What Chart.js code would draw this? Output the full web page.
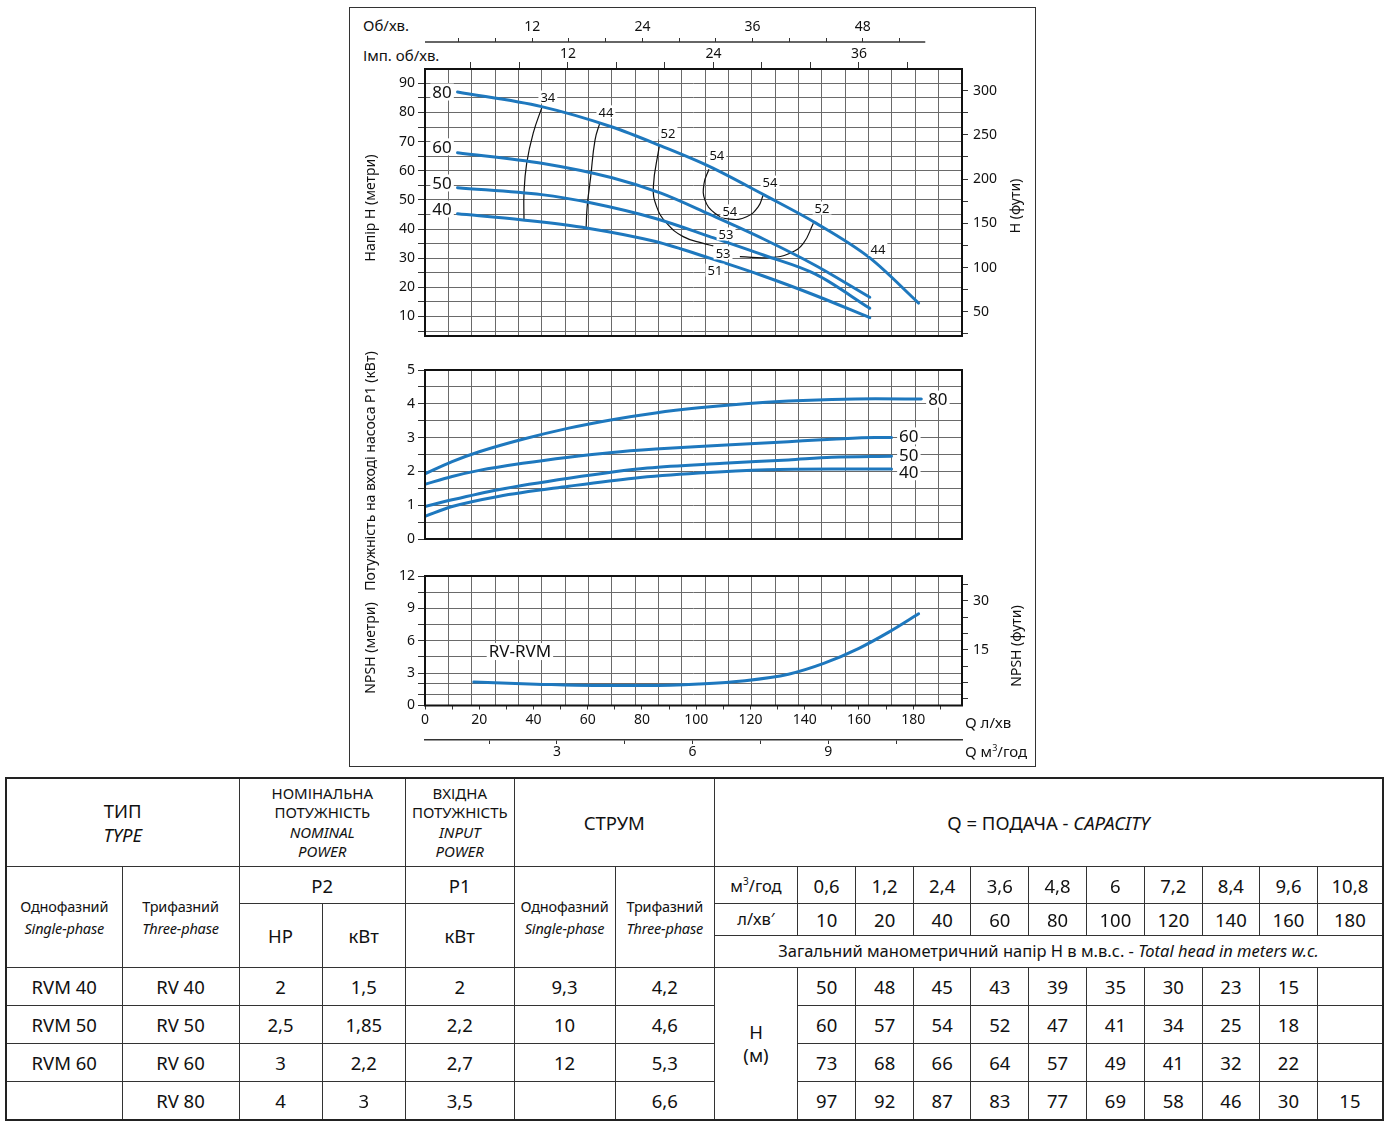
<!DOCTYPE html>
<html>
<head>
<meta charset="utf-8">
<script src="https://cdn.jsdelivr.net/npm/chart.js@4.4.0/dist/chart.umd.min.js"></script>
<style>
body{margin:0;background:#fff;font-family:'Noto Sans',sans-serif;color:#111;}
#page{position:relative;width:1386px;height:1126px;overflow:hidden;}
#frame{position:absolute;left:349px;top:7px;width:685px;height:758px;border:1.5px solid #333;}
canvas{position:absolute;}
.lbl{position:absolute;font-size:15px;white-space:nowrap;line-height:1;transform:translateY(-50%);}
.vt{position:absolute;font-size:14px;white-space:nowrap;line-height:1;transform:translate(-50%,-50%) rotate(-90deg);}
#tbl{position:absolute;left:5px;top:777px;border-collapse:collapse;table-layout:fixed;border:2px solid #222;}
#tbl td{border:1.5px solid #333;text-align:center;vertical-align:middle;padding:0;font-size:18.5px;line-height:1.25;overflow:hidden;white-space:nowrap;}
#tbl .hd{font-size:15px;line-height:1.3;}
#tbl .ph{font-size:14.5px;line-height:1.55;letter-spacing:-0.2px;}
#tbl .sm{font-size:16.5px;}
</style>
</head>
<body>
<div id="page">
  <div id="frame"></div>
  <div class="lbl" style="left:363px;top:25px">Об/хв.</div>
  <div class="lbl" style="left:363px;top:55px">Імп. об/хв.</div>
  <canvas id="cHead" width="686" height="332" style="left:350px;top:10px"></canvas>
  <canvas id="cPow" width="686" height="200" style="left:350px;top:345px"></canvas>
  <canvas id="cNpsh" width="686" height="215" style="left:350px;top:548px"></canvas>
  <div class="vt" style="left:370px;top:208px">Напір H (метри)</div>
  <div class="vt" style="left:1015px;top:206px">H (фути)</div>
  <div class="vt" style="left:370px;top:471px">Потужність на вході насоса P1 (кВт)</div>
  <div class="vt" style="left:370px;top:648px">NPSH (метри)</div>
  <div class="vt" style="left:1016px;top:646px">NPSH (фути)</div>
  <div class="lbl" style="left:965px;top:722px">Q л/хв</div>
  <div class="lbl" style="left:965px;top:751px">Q м<sup style="font-size:9px">3</sup>/год</div>
  <table id="tbl">
    <colgroup>
      <col style="width:116px"><col style="width:117px"><col style="width:83px"><col style="width:83.5px">
      <col style="width:108.5px"><col style="width:101px"><col style="width:99.5px"><col style="width:83px">
      <col style="width:58.3px"><col style="width:57.7px"><col style="width:57.4px"><col style="width:57.7px">
      <col style="width:57.8px"><col style="width:58.1px"><col style="width:57.8px"><col style="width:57.3px">
      <col style="width:57.8px"><col style="width:65.6px">
    </colgroup>
    <tbody id="tbody"></tbody>
  </table>
</div>
<script>
const BLUE = '#1e78be';
const GRID = '#6a6a6a';
const INK = '#111';
const FONT = "'Noto Sans', sans-serif";

// Q axis (л/хв)
const Q_MAX = 198;
const qTickVals = [0, 10, 20, 30, 40, 50, 60, 70, 80, 90, 100, 110, 120, 130, 140, 150, 160, 170, 180, 190];
const qLabelVals = [0, 20, 40, 60, 80, 100, 120, 140, 160, 180];
const m3TickVals = [1.5, 3, 4.5, 6, 7.5, 9, 10.5];
const m3LabelVals = [3, 6, 9];
const gridCols = [1, 2, 3, 4, 5, 6, 7, 8, 9, 10, 11, 12, 13, 14, 15, 16, 17, 18, 19, 20, 21, 22];
const obTickVals = [4, 8, 12, 16, 20, 24, 28, 32, 36, 40, 44, 48, 52];
const obLabelVals = [12, 24, 36, 48];
const OB_LINE_END = 54.8;
const impTickVals = [4, 8, 12, 16, 20, 24, 28, 32, 36, 40];
const impLabelVals = [12, 24, 36];
const headTickVals = [5, 10, 15, 20, 25, 30, 35, 40, 45, 50, 55, 60, 65, 70, 75, 80, 85, 90];
const headLabelVals = [10, 20, 30, 40, 50, 60, 70, 80, 90];
const feetTickVals = [25, 50, 75, 100, 125, 150, 175, 200, 225, 250, 275, 300];
const feetLabelVals = [50, 100, 150, 200, 250, 300];
const powTickVals = [0, 0.5, 1, 1.5, 2, 2.5, 3, 3.5, 4, 4.5, 5];
const powLabelVals = [0, 1, 2, 3, 4, 5];
const npshTickVals = [0, 1, 2, 3, 4.5, 6, 7.5, 9, 10.5, 12];
const npshLabelVals = [0, 3, 6, 9, 12];
const npshFtTickVals = [0, 5, 10, 15, 20, 25, 30, 35];
const npshFtLabelVals = [15, 30];

// Напір H (м) vs Q (л/хв)
const headQ80 = [12, 43, 69, 87, 105, 125, 144, 164, 182];
const head80  = [87, 82, 75, 68.5, 61.4, 51.7, 42.1, 30.1, 14.6];
const headQ60 = [12, 43, 69, 87, 105, 125, 144, 164];
const head60  = [66.2, 62.6, 57.6, 52.3, 45, 36.5, 27.5, 16.6];
const headQ50 = [12, 43, 61, 85, 105, 125, 144, 164];
const head50  = [54.2, 51.8, 49, 43.6, 37.4, 31, 24.5, 12.8];
const headQ40 = [12, 36, 60, 85, 105, 125, 144, 164];
const head40  = [45.2, 43.1, 40.3, 35.7, 30, 23.8, 17.2, 9.6];

// ККД (%) iso-lines, [Q, H]
const eff34 = [[43.2, 82], [39.9, 72.9], [37.5, 62.6], [36.5, 52.3], [36.5, 43.1]];
const eff44 = [[64.5, 76.5], [62.7, 70.6], [61.1, 58], [59.8, 47.7], [59.4, 40.3]];
const eff52a = [[86.4, 68.5], [84.2, 54.5], [85.4, 47.7], [89.1, 42], [95.2, 37.4], [102.6, 35.1], [106.3, 34.2]];
const eff52b = [[116.1, 30.5], [127.2, 30.2], [134.6, 31.7], [139.5, 35.1], [143.2, 42]];
const eff54 = [[104.7, 60.5], [102.9, 55.7], [103.2, 50], [106.9, 45.4], [112.4, 43.4], [118.6, 44.2], [122.9, 47.7], [124.7, 51.7]];

// Потужність P1 (кВт)
const powQ80 = [0, 10, 20, 36, 53, 69, 85, 101, 118, 134, 150, 166, 183];
const pow80  = [1.93, 2.29, 2.58, 2.95, 3.28, 3.53, 3.73, 3.88, 4.0, 4.08, 4.13, 4.15, 4.14];
const powQ60 = [0, 10, 20, 36, 53, 69, 85, 101, 118, 134, 150, 166, 172];
const pow60  = [1.62, 1.85, 2.03, 2.24, 2.42, 2.56, 2.66, 2.74, 2.81, 2.88, 2.95, 3.0, 3.0];
const powQ50 = [0, 10, 27, 53, 82, 110, 134, 150, 172];
const pow50  = [0.96, 1.16, 1.46, 1.8, 2.1, 2.24, 2.34, 2.42, 2.45];
const powQ40 = [0, 10, 27, 53, 77, 101, 126, 150, 172];
const pow40  = [0.67, 0.96, 1.26, 1.56, 1.8, 1.95, 2.05, 2.07, 2.07];

// NPSH (м)
const npshQ = [18, 41, 62, 82, 101, 118, 134, 147, 160, 171, 182];
const npsh  = [2.17, 1.98, 1.85, 1.85, 2.0, 2.3, 2.9, 3.9, 5.3, 6.8, 8.5];

// curve labels [Q, value, text, size]
const headTags = [[6.3, 87, '80', 17], [6.3, 68.2, '60', 17], [6.3, 55.8, '50', 17], [6.3, 46.9, '40', 17],
  [45.3, 85.3, '34', 13], [66.7, 80.2, '44', 13], [89.6, 73, '52', 13], [107.6, 65.4, '54', 13],
  [127.2, 56.1, '54', 13], [112.4, 46.2, '54', 13], [146.4, 47.2, '52', 13], [111, 38.3, '53', 13],
  [109.9, 31.8, '53', 13], [106.9, 25.9, '51', 13], [167, 33, '44', 13]];
const powTags = [[189.1, 4.14, '80', 17], [178.4, 3.05, '60', 17], [178.4, 2.49, '50', 17], [178.4, 1.99, '40', 17]];
const npshTags = [[35, 5.0, 'RV-RVM', 17]];

// таблиця
const capM3 = ['0,6', '1,2', '2,4', '3,6', '4,8', '6', '7,2', '8,4', '9,6', '10,8'];
const capLmin = ['10', '20', '40', '60', '80', '100', '120', '140', '160', '180'];
const typeSingle = ['RVM 40', 'RVM 50', 'RVM 60', ''];
const typeThree = ['RV 40', 'RV 50', 'RV 60', 'RV 80'];
const powerHP = ['2', '2,5', '3', '4'];
const powerKW = ['1,5', '1,85', '2,2', '3'];
const inputKW = ['2', '2,2', '2,7', '3,5'];
const ampSingle = ['9,3', '10', '12', ''];
const ampThree = ['4,2', '4,6', '5,3', '6,6'];
const headTable = [
  ['50', '48', '45', '43', '39', '35', '30', '23', '15', ''],
  ['60', '57', '54', '52', '47', '41', '34', '25', '18', ''],
  ['73', '68', '66', '64', '57', '49', '41', '32', '22', ''],
  ['97', '92', '87', '83', '77', '69', '58', '46', '30', '15']
];

function pts(qs, vs) { return qs.map((q, i) => ({x: q, y: vs[i]})); }
function pairs(arr) { return arr.map(p => ({x: p[0], y: p[1]})); }
function curve(data) {
  return {data, xAxisID: 'q', yAxisID: 'y', showLine: true, borderColor: BLUE, borderWidth: 3,
    pointRadius: 0, cubicInterpolationMode: 'monotone', fill: false, borderCapStyle: 'round'};
}
function effLine(data) {
  return {data, xAxisID: 'q', yAxisID: 'y', showLine: true, borderColor: INK, borderWidth: 1.2,
    pointRadius: 0, tension: 0.45, fill: false};
}
function fixed(vals) { return s => { s.ticks = vals.map(v => ({value: v})); }; }
function only(vals) { return v => (vals.includes(v) ? String(v) : ''); }
function width(w) { return s => { s.width = w; s.paddingTop = 0; s.paddingBottom = 0; }; }
function height(h) { return s => { s.height = h; s.paddingLeft = 0; s.paddingRight = 0; }; }
const tickFont = {family: FONT, size: 14};

const framePlugin = {
  id: 'frame',
  afterDatasetsDraw(chart) {
    const a = chart.chartArea, c = chart.ctx;
    c.save(); c.lineWidth = 2; c.strokeStyle = INK;
    c.strokeRect(a.left, a.top, a.right - a.left, a.bottom - a.top);
    c.restore();
  }
};
function tagPlugin(items, yId) {
  return {
    id: 'tags',
    afterDraw(chart) {
      const c = chart.ctx, xs = chart.scales.q, ys = chart.scales[yId];
      items.forEach(t => {
        const px = xs.getPixelForValue(t[0]), py = ys.getPixelForValue(t[1]);
        c.save();
        c.font = t[3] + 'px ' + FONT;
        c.textAlign = 'center'; c.textBaseline = 'middle';
        const w = c.measureText(t[2]).width;
        c.fillStyle = '#fff';
        c.fillRect(px - w / 2 - 2, py - t[3] * 0.5, w + 4, t[3]);
        c.fillStyle = INK;
        c.fillText(t[2], px, py + 1);
        c.restore();
      });
    }
  };
}
const obLinePlugin = {
  id: 'obLine',
  afterDraw(chart) {
    const s = chart.scales.ob, c = chart.ctx;
    c.save(); c.lineWidth = 1.5; c.strokeStyle = '#333';
    c.beginPath(); c.moveTo(s.left, s.bottom); c.lineTo(s.getPixelForValue(OB_LINE_END), s.bottom); c.stroke();
    c.restore();
  }
};

const qHidden = {type: 'linear', display: false, min: 0, max: Q_MAX};
const gridAxis = {type: 'linear', position: 'bottom', weight: -1, min: 0, max: 23, afterBuildTicks: fixed(gridCols),
  ticks: {display: false}, grid: {color: GRID, drawTicks: false}, border: {display: false}, afterFit: height(0)};
const baseOpts = {responsive: false, animation: false, events: [],
  plugins: {legend: {display: false}, tooltip: {enabled: false}}};

// --- Напір
new Chart(document.getElementById('cHead'), {
  type: 'scatter',
  data: {datasets: [
    curve(pts(headQ80, head80)), curve(pts(headQ60, head60)), curve(pts(headQ50, head50)), curve(pts(headQ40, head40)),
    effLine(pairs(eff34)), effLine(pairs(eff44)), effLine(pairs(eff52a)), effLine(pairs(eff52b)), effLine(pairs(eff54))
  ]},
  options: Object.assign({}, baseOpts, {
    layout: {padding: {bottom: 6}},
    scales: {
      q: qHidden,
      g: gridAxis,
      imp: {type: 'linear', position: 'top', weight: 0, min: 0.21, max: 44.5, afterBuildTicks: fixed(impTickVals),
        ticks: {callback: only(impLabelVals), font: tickFont, color: INK, padding: 0, maxRotation: 0, autoSkip: false},
        grid: {drawOnChartArea: false, tickLength: 7, tickColor: '#333'}, border: {display: false}, afterFit: height(27)},
      ob: {type: 'linear', position: 'top', weight: 1, min: 0.33, max: 58.8, afterBuildTicks: fixed(obTickVals),
        ticks: {callback: only(obLabelVals), font: tickFont, color: INK, padding: 3, maxRotation: 0, autoSkip: false},
        grid: {drawOnChartArea: false, tickLength: 4, tickColor: '#333'}, border: {display: false}, afterFit: height(32)},
      y: {type: 'linear', position: 'left', min: 3.3, max: 94.9, afterBuildTicks: fixed(headTickVals),
        ticks: {callback: only(headLabelVals), font: tickFont, color: INK, padding: 3, autoSkip: false},
        grid: {color: GRID, tickLength: 7, tickColor: '#333'}, border: {display: false}, afterFit: width(75)},
      yr: {type: 'linear', position: 'right', min: 22.6, max: 324.4, afterBuildTicks: fixed(feetTickVals),
        ticks: {callback: only(feetLabelVals), font: tickFont, color: INK, padding: 5, autoSkip: false},
        grid: {drawOnChartArea: false, tickLength: 6, tickColor: '#333'}, border: {display: false}, afterFit: width(74)}
    }
  }),
  plugins: [framePlugin, tagPlugin(headTags, 'y'), obLinePlugin]
});

// --- Потужність
new Chart(document.getElementById('cPow'), {
  type: 'scatter',
  data: {datasets: [
    curve(pts(powQ80, pow80)), curve(pts(powQ60, pow60)), curve(pts(powQ50, pow50)), curve(pts(powQ40, pow40))
  ]},
  options: Object.assign({}, baseOpts, {
    layout: {padding: {top: 25, bottom: 6}},
    scales: {
      q: qHidden,
      g: gridAxis,
      y: {type: 'linear', position: 'left', min: 0, max: 5, afterBuildTicks: fixed(powTickVals),
        ticks: {callback: only(powLabelVals), font: tickFont, color: INK, padding: 3, autoSkip: false},
        grid: {color: GRID, tickLength: 7, tickColor: '#333'}, border: {display: false}, afterFit: width(75)},
      yr: {type: 'linear', position: 'right', min: 0, max: 5, ticks: {display: false},
        grid: {drawOnChartArea: false, drawTicks: false}, border: {display: false}, afterFit: width(74)}
    }
  }),
  plugins: [framePlugin, tagPlugin(powTags, 'y')]
});

// --- NPSH
new Chart(document.getElementById('cNpsh'), {
  type: 'scatter',
  data: {datasets: [curve(pts(npshQ, npsh))]},
  options: Object.assign({}, baseOpts, {
    layout: {padding: {top: 28}},
    scales: {
      q: {type: 'linear', position: 'bottom', weight: 0, min: 0, max: Q_MAX, afterBuildTicks: fixed(qTickVals),
        ticks: {callback: only(qLabelVals), font: tickFont, color: INK, padding: 2, maxRotation: 0, autoSkip: false},
        grid: {drawOnChartArea: false, tickLength: 4, tickColor: '#333'}, border: {display: false}, afterFit: height(34.5)},
      m3: {type: 'linear', position: 'bottom', weight: 1, min: 0.08, max: 11.96, afterBuildTicks: fixed(m3TickVals),
        ticks: {callback: only(m3LabelVals), font: tickFont, color: INK, padding: 0, maxRotation: 0, autoSkip: false},
        grid: {drawOnChartArea: false, tickLength: 4, tickColor: '#333'}, border: {display: true, color: '#333', width: 1.5},
        afterFit: height(23)},
      g: gridAxis,
      y: {type: 'linear', position: 'left', min: 0, max: 12, afterBuildTicks: fixed(npshTickVals),
        ticks: {callback: only(npshLabelVals), font: tickFont, color: INK, padding: 3, autoSkip: false},
        grid: {color: GRID, tickLength: 7, tickColor: '#333'}, border: {display: false}, afterFit: width(75)},
      yr: {type: 'linear', position: 'right', min: -2.05, max: 37.6, afterBuildTicks: fixed(npshFtTickVals),
        ticks: {callback: only(npshFtLabelVals), font: tickFont, color: INK, padding: 5, autoSkip: false},
        grid: {drawOnChartArea: false, tickLength: 6, tickColor: '#333'}, border: {display: false}, afterFit: width(74)}
    }
  }),
  plugins: [framePlugin, tagPlugin(npshTags, 'y')]
});

// --- таблиця
const tb = document.getElementById('tbody');
let html = '';
html += '<tr style="height:88.7px">' +
  '<td colspan="2">ТИП<br><i>TYPE</i></td>' +
  '<td colspan="2" class="hd">НОМІНАЛЬНА<br>ПОТУЖНІСТЬ<br><i>NOMINAL<br>POWER</i></td>' +
  '<td class="hd">ВХІДНА<br>ПОТУЖНІСТЬ<br><i>INPUT<br>POWER</i></td>' +
  '<td colspan="2">СТРУМ</td>' +
  '<td colspan="11">Q = ПОДАЧА - <i>CAPACITY</i></td></tr>';
html += '<tr style="height:37px">' +
  '<td rowspan="3" class="ph">Однофазний<br><i>Single-phase</i></td>' +
  '<td rowspan="3" class="ph">Трифазний<br><i>Three-phase</i></td>' +
  '<td colspan="2">P2</td><td>P1</td>' +
  '<td rowspan="3" class="ph">Однофазний<br><i>Single-phase</i></td>' +
  '<td rowspan="3" class="ph">Трифазний<br><i>Three-phase</i></td>' +
  '<td class="sm">м<sup style="font-size:10px">3</sup>/год</td>' + capM3.map(v => '<td>' + v + '</td>').join('') + '</tr>';
html += '<tr style="height:32px">' +
  '<td rowspan="2">HP</td><td rowspan="2">кВт</td><td rowspan="2">кВт</td>' +
  '<td class="sm">л/хв′</td>' + capLmin.map(v => '<td>' + v + '</td>').join('') + '</tr>';
html += '<tr style="height:32px"><td colspan="11" class="sm">Загальний манометричний напір Н в м.в.с. - <i>Total head in meters w.c.</i></td></tr>';
for (let i = 0; i < typeThree.length; i++) {
  html += '<tr style="height:38px">' +
    '<td>' + typeSingle[i] + '</td><td>' + typeThree[i] + '</td><td>' + powerHP[i] + '</td><td>' + powerKW[i] + '</td>' +
    '<td>' + inputKW[i] + '</td><td>' + ampSingle[i] + '</td><td>' + ampThree[i] + '</td>' +
    (i === 0 ? '<td rowspan="4">H<br>(м)</td>' : '') +
    headTable[i].map(v => '<td>' + v + '</td>').join('') + '</tr>';
}
tb.innerHTML = html;
</script>
</body>
</html>
